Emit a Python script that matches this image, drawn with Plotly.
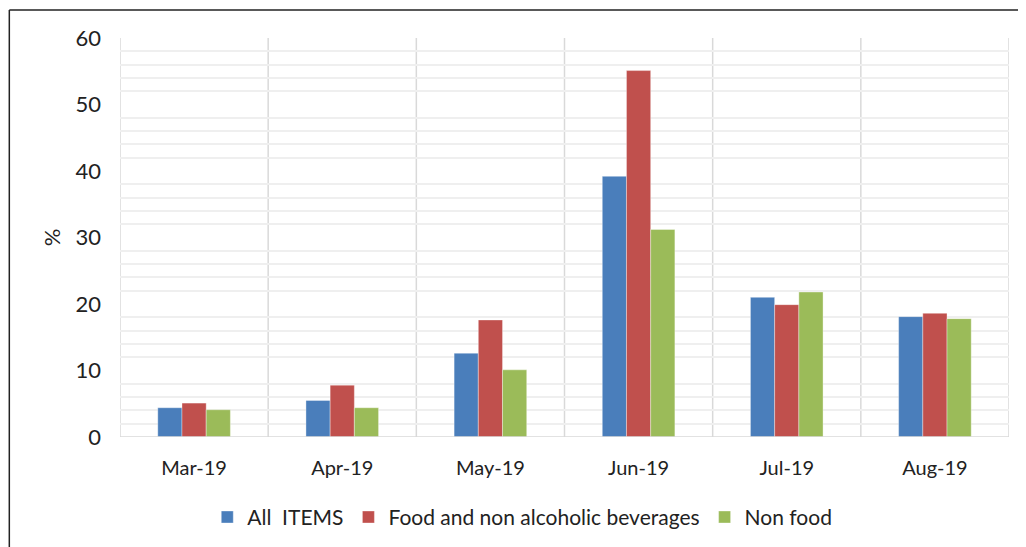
import plotly.graph_objects as go

categories = ["Mar-19", "Apr-19", "May-19", "Jun-19", "Jul-19", "Aug-19"]
all_items = [4.4, 5.5, 12.6, 39.2, 21.0, 18.1]
food = [5.1, 7.8, 17.6, 55.1, 19.9, 18.6]
non_food = [4.1, 4.4, 10.1, 31.2, 21.8, 17.8]

series = [
    ("All  ITEMS", all_items, "#4a7ebb"),
    ("Food and non alcoholic beverages", food, "#c0504d"),
    ("Non food", non_food, "#9bbb59"),
]

FONT = "Lato, 'Open Sans', sans-serif"
fig = go.Figure()
for name, vals, col in series:
    fig.add_trace(go.Bar(
        x=categories, y=vals, name=name,
        marker=dict(color=col, line=dict(color="rgba(255,255,255,0.6)", width=0.6)),
    ))

# category separators
for i in range(len(categories) + 1):
    fig.add_shape(type="line", xref="x", yref="paper", x0=i - 0.5, x1=i - 0.5,
                  y0=0, y1=1, line=dict(color="#d9d9d9", width=1.5), layer="below")

# outer frame (left and top)
fig.add_shape(type="line", xref="paper", yref="paper", x0=-0.1245, x1=1.05,
              y0=1.0702, y1=1.0702, line=dict(color="#222", width=1.5))
fig.add_shape(type="line", xref="paper", yref="paper", x0=-0.1245, x1=-0.1245,
              y0=-0.35, y1=1.0702, line=dict(color="#222", width=1.5))

fig.update_layout(
    width=1026, height=547,
    margin=dict(l=112, r=25, t=30, b=118),
    paper_bgcolor="white", plot_bgcolor="white",
    barmode="group", bargap=0.51, bargroupgap=0,
    font=dict(family=FONT, size=20, color="#222"),
    showlegend=True,
    legend=dict(orientation="h", x=0.4525, xanchor="center", y=-0.15, yanchor="top",
                font=dict(size=21, color="#222"), traceorder="normal"),
    xaxis=dict(range=[-0.5, 5.5], showgrid=False, showline=False, ticks="",
               tickfont=dict(size=20), fixedrange=True, automargin=False,
               ticklabelstandoff=17),
    yaxis=dict(range=[0, 60], dtick=10, showgrid=False, zeroline=False,
               showline=False, ticks="", ticklabelstandoff=18, automargin=False,
               tickfont=dict(size=22),
               title=dict(text="%", font=dict(size=22), standoff=8),
               minor=dict(dtick=2, showgrid=True, gridcolor="#efefef", gridwidth=1.5)),
)
fig.add_shape(type="line", xref="paper", yref="y", x0=0, x1=1, y0=0, y1=0,
              line=dict(color="#d9d9d9", width=1.5))

fig.write_html("out.html")
